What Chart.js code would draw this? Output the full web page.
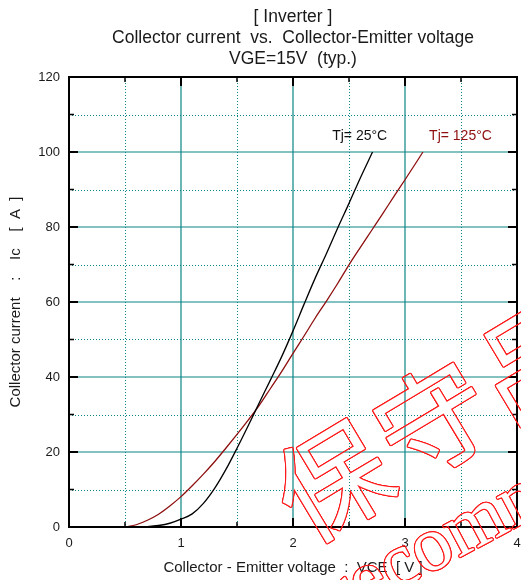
<!DOCTYPE html>
<html>
<head>
<meta charset="utf-8">
<script src="https://cdn.jsdelivr.net/npm/chart.js@4.4.1/dist/chart.umd.min.js"></script>
<style>
    body { margin: 0; background: #fff; }
    canvas { display: block; }
</style>
</head>
<body>
<canvas id="myChart" width="521" height="580"></canvas>
<script>
    // Data-----
    const titleLines = ['[ Inverter ]', 'Collector current  vs.  Collector-Emitter voltage', 'VGE=15V  (typ.)'];

    // Tj = 25°C
    const vce25 = [0.6, 0.7, 0.8, 0.9, 1.0, 1.1, 1.2, 1.3, 1.4, 1.5, 1.6, 1.7, 1.8, 1.9, 2.0, 2.1, 2.2, 2.3, 2.4, 2.5, 2.6, 2.71];
    const ic25 = [0, 0.1, 0.4, 1.0, 2.1, 3.5, 6.3, 10.3, 15.3, 21.0, 27.0, 33.2, 39.3, 45.5, 52.3, 59.5, 66.5, 73.0, 79.8, 86.3, 93.0, 100];

    // Tj = 125°C
    const vce125 = [0.5, 0.6, 0.7, 0.8, 0.9, 1.0, 1.1, 1.2, 1.3, 1.4, 1.5, 1.6, 1.7, 1.8, 1.9, 2.0, 2.1, 2.2, 2.3, 2.4, 2.5, 2.6, 2.7, 2.8, 2.9, 3.0, 3.1, 3.16];
    const ic125 = [0, 0.6, 1.8, 3.4, 5.6, 8.1, 11.0, 14.1, 17.4, 21.0, 24.7, 28.5, 32.5, 37.0, 41.5, 46.3, 51.0, 55.8, 60.3, 65.0, 69.9, 74.5, 79.0, 83.5, 88.1, 92.6, 97.2, 100];

    const xMajor = [1, 2, 3];
    const xMinor = [0.5, 1.5, 2.5, 3.5];
    const yMajor = [20, 40, 60, 80, 100];
    const yMinor = [10, 30, 50, 70, 90, 110];
    // Data-----

    const teal = '#0a8585';
    const darkRed = '#8e0f0f';
    const sans = '"Liberation Sans", Arial, sans-serif';

    const toPoints = (xs, ys) => xs.map((x, i) => ({x: x, y: ys[i]}));

    // outline of the glyph union: dilate the filled text by ~1px, then cut the text itself out
    function outlineText(ctx, text, font, x, y, angle, color, spacing) {
        const c = document.createElement('canvas');
        c.width = ctx.canvas.width;
        c.height = ctx.canvas.height;
        const o = c.getContext('2d');
        const put = (dx, dy) => {
            o.save();
            o.translate(x + dx, y + dy);
            o.rotate(angle);
            o.font = font;
            o.letterSpacing = spacing || '0px';
            o.textBaseline = 'alphabetic';
            o.textAlign = 'left';
            o.fillText(text, 0, 0);
            o.restore();
        };
        o.fillStyle = color;
        for (let k = 0; k < 16; k++) {
            const t = k / 16 * 2 * Math.PI;
            put(Math.cos(t) * 1.1, Math.sin(t) * 1.1);
        }
        o.globalCompositeOperation = 'destination-out';
        put(0, 0);
        ctx.save();
        ctx.setTransform(1, 0, 0, 1, 0, 0);
        ctx.drawImage(c, 0, 0);
        ctx.restore();
    }

    // Grid, frame, inward ticks, curve labels and title-----
    const plotDecor = {
        id: 'plotDecor',
        beforeDatasetsDraw(chart) {
            const {ctx, chartArea: a, scales: {x, y}} = chart;
            ctx.save();
            ctx.strokeStyle = teal;
            ctx.lineWidth = 1;

            // dotted minor grid
            ctx.setLineDash([1, 2]);
            ctx.beginPath();
            xMinor.forEach(v => {
                const px = Math.round(x.getPixelForValue(v)) + 0.5;
                ctx.moveTo(px, a.top);
                ctx.lineTo(px, a.bottom);
            });
            yMinor.forEach(v => {
                const py = Math.round(y.getPixelForValue(v)) + 0.5;
                ctx.moveTo(a.left, py);
                ctx.lineTo(a.right, py);
            });
            ctx.stroke();

            // solid major grid
            ctx.setLineDash([]);
            ctx.lineWidth = 1.2;
            ctx.beginPath();
            xMajor.forEach(v => {
                const px = x.getPixelForValue(v);
                ctx.moveTo(px, a.top);
                ctx.lineTo(px, a.bottom);
            });
            yMajor.forEach(v => {
                const py = y.getPixelForValue(v);
                ctx.moveTo(a.left, py);
                ctx.lineTo(a.right, py);
            });
            ctx.stroke();
            ctx.restore();
        },
        afterDatasetsDraw(chart) {
            const {ctx, chartArea: a, scales: {x, y}} = chart;
            ctx.save();
            ctx.strokeStyle = '#000';

            // ticks on all four sides, pointing in
            const tickX = (vals, len, w) => {
                ctx.lineWidth = w;
                ctx.beginPath();
                vals.forEach(v => {
                    const px = x.getPixelForValue(v);
                    ctx.moveTo(px, a.bottom); ctx.lineTo(px, a.bottom - len);
                    ctx.moveTo(px, a.top); ctx.lineTo(px, a.top + len);
                });
                ctx.stroke();
            };
            const tickY = (vals, len, w) => {
                ctx.lineWidth = w;
                ctx.beginPath();
                vals.forEach(v => {
                    const py = y.getPixelForValue(v);
                    ctx.moveTo(a.left, py); ctx.lineTo(a.left + len, py);
                    ctx.moveTo(a.right, py); ctx.lineTo(a.right - len, py);
                });
                ctx.stroke();
            };
            tickX(xMajor, 9, 2);
            tickX(xMinor, 5, 1.5);
            tickY(yMajor, 9, 2);
            tickY(yMinor, 5, 1.5);

            ctx.lineWidth = 2;
            ctx.strokeRect(a.left, a.top, a.right - a.left, a.bottom - a.top);

            // curve labels
            ctx.font = '14px ' + sans;
            ctx.textBaseline = 'middle';
            ctx.textAlign = 'left';
            ctx.fillStyle = '#111';
            ctx.fillText('Tj= 25°C', x.getPixelForValue(2.35), y.getPixelForValue(104.2));
            ctx.fillStyle = darkRed;
            ctx.fillText('Tj= 125°C', x.getPixelForValue(3.215), y.getPixelForValue(104.2));

            // three-line title centred over the plot
            ctx.fillStyle = '#1a1a1a';
            ctx.textAlign = 'center';
            ctx.font = '17.5px ' + sans;
            const cx = (a.left + a.right) / 2;
            titleLines.forEach((t, i) => ctx.fillText(t, cx, 17 + i * 21));
            ctx.restore();
        },
        afterDraw(chart) {
            // red outlined stamp across the lower right
            outlineText(chart.ctx, '保守品', '112px "Noto Sans CJK JP", sans-serif',
                306, 546, -31 * Math.PI / 180, '#ff1a1a', '6px');
            outlineText(chart.ctx, 'recommended', '78px "Liberation Serif", "DejaVu Serif", serif',
                340, 621, -28 * Math.PI / 180, '#ff1a1a');
        }
    };

    // Config-----
    const config = {
        type: 'scatter',
        data: {
            datasets: [{
                label: 'Tj= 25°C',
                data: toPoints(vce25, ic25),
                showLine: true,
                borderColor: '#000',
                borderWidth: 1.3,
                pointRadius: 0,
                cubicInterpolationMode: 'monotone'
            }, {
                label: 'Tj= 125°C',
                data: toPoints(vce125, ic125),
                showLine: true,
                borderColor: darkRed,
                borderWidth: 1.3,
                pointRadius: 0,
                cubicInterpolationMode: 'monotone'
            }]
        },
        options: {
            responsive: false,
            animation: false,
            devicePixelRatio: 1,
            layout: {
                padding: {top: 77, right: 4, left: 0, bottom: 0}
            },
            plugins: {
                legend: false,
                tooltip: {enabled: false}
            },
            scales: {
                x: {
                    type: 'linear',
                    min: 0,
                    max: 4,
                    afterFit(s) {
                        s.height = 53;
                        s.paddingLeft = 0;
                        s.paddingRight = 0;
                    },
                    grid: {display: false, drawTicks: false},
                    border: {display: false},
                    ticks: {
                        stepSize: 1,
                        padding: 9,
                        color: '#1a1a1a',
                        font: {family: sans, size: 13}
                    },
                    title: {
                        display: true,
                        text: 'Collector - Emitter voltage  :  VCE  [ V ]',
                        color: '#1a1a1a',
                        padding: {top: 0, bottom: 3},
                        font: {family: sans, size: 15}
                    }
                },
                y: {
                    min: 0,
                    max: 120,
                    afterFit(s) {
                        s.width = 69;
                        s.paddingTop = 0;
                        s.paddingBottom = 0;
                    },
                    grid: {display: false, drawTicks: false},
                    border: {display: false},
                    ticks: {
                        stepSize: 20,
                        padding: 9,
                        color: '#1a1a1a',
                        font: {family: sans, size: 13}
                    },
                    title: {
                        display: true,
                        text: 'Collector current    :    Ic    [  A  ]',
                        color: '#1a1a1a',
                        padding: {top: 7, bottom: 0},
                        font: {family: sans, size: 15}
                    }
                }
            }
        },
        plugins: [plotDecor]
    };
    // Config-----

    var myChart = new Chart(
        document.getElementById('myChart'),
        config
    );
</script>
</body>
</html>
